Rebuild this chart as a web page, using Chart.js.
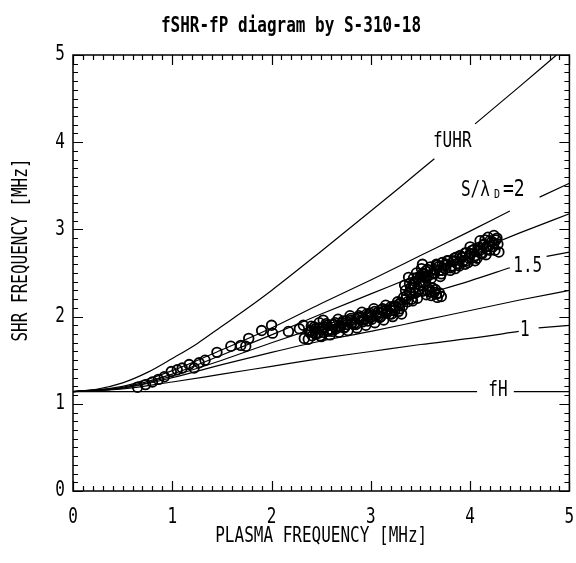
<!DOCTYPE html>
<html>
<head>
<meta charset="utf-8">
<script src="https://cdn.jsdelivr.net/npm/chart.js@4"></script>
<style>
  html, body { margin: 0; padding: 0; background: #fff; }
</style>
</head>
<body>
<canvas id="chart" width="576" height="563"></canvas>
<script>
// measured SHR points (plasma freq, SHR freq) in MHz
const shrFp = [
  0.65, 0.73, 0.80, 0.86, 0.92, 0.99, 1.05, 1.10, 1.17, 1.22, 1.27, 1.33, 1.45, 1.59, 1.69, 1.74, 1.77,
  1.90, 2.00, 2.01, 2.17, 2.28, 2.32, 2.33, 2.40, 2.45, 2.52, 2.48,
  2.38, 2.41, 2.44, 2.47, 2.50, 2.53, 2.56, 2.59, 2.62, 2.65, 2.68, 2.71, 2.74, 2.77, 2.80, 2.83, 2.86,
  2.89, 2.92, 2.95, 2.98, 3.01, 3.04, 3.07, 3.10, 3.13, 3.16, 3.19, 3.22, 3.25, 3.28, 3.30, 3.31,
  2.60, 2.70, 2.80, 2.90, 3.00, 3.10, 3.20,
  2.37, 2.39, 2.43, 2.45, 2.49, 2.51, 2.55, 2.57, 2.61, 2.63, 2.67, 2.69, 2.73, 2.75, 2.79, 2.81,
  2.85, 2.87, 2.91, 2.93, 2.97, 2.99, 3.03, 3.05, 3.09, 3.11, 3.15, 3.17, 3.21, 3.23, 3.27, 3.29,
  2.40, 2.44, 2.48, 2.52, 2.56, 2.60, 2.64, 2.68, 2.72, 2.76, 2.80, 2.84, 2.88, 2.92, 2.96, 3.00,
  3.04, 3.08, 3.12, 3.16, 3.20, 3.24, 3.28,
  3.33, 3.35, 3.37, 3.39, 3.41, 3.43, 3.44, 3.46, 3.47, 3.49, 3.51, 3.52, 3.54, 3.56,
  3.32, 3.36, 3.40, 3.42, 3.45, 3.48, 3.50, 3.53, 3.57, 3.62, 3.66, 3.34, 3.38,
  3.35, 3.39, 3.43, 3.47, 3.41, 3.45, 3.50, 3.55, 3.60, 3.65,
  3.59, 3.61, 3.64, 3.67, 3.69, 3.71,
  3.55, 3.58, 3.60, 3.63, 3.66, 3.69, 3.72, 3.75, 3.78, 3.81, 3.84, 3.87, 3.90, 3.93, 3.96, 3.99,
  4.02, 4.05, 4.08, 4.11, 4.14, 4.17, 4.20, 4.23, 4.26, 4.28, 4.29, 4.18, 4.10, 4.00, 3.70, 3.85,
  3.95, 4.05, 3.52,
  3.51, 3.54, 3.57, 3.61, 3.64, 3.67, 3.71, 3.74, 3.77, 3.80, 3.83, 3.86, 3.89, 3.92, 3.95, 3.98,
  4.01, 4.04, 4.07, 4.10, 4.13, 4.16, 4.19, 4.22, 4.25, 4.27, 4.24, 4.15,
  3.52, 3.56, 3.60, 3.64, 3.68, 3.72, 3.76, 3.80, 3.84, 3.88, 3.92, 3.96, 4.00, 4.04, 4.08, 4.12,
  4.16, 4.20, 4.24
];
const shrF = [
  1.19, 1.22, 1.25, 1.28, 1.31, 1.37, 1.39, 1.41, 1.45, 1.41, 1.47, 1.50, 1.59, 1.66, 1.67, 1.66, 1.75,
  1.84, 1.90, 1.81, 1.83, 1.86, 1.90, 1.75, 1.89, 1.80, 1.96, 1.93,
  1.82, 1.78, 1.86, 1.81, 1.77, 1.88, 1.83, 1.79, 1.91, 1.86, 1.82, 1.93, 1.88, 1.84, 1.96, 1.91, 1.87,
  1.99, 1.94, 1.90, 2.02, 1.97, 1.93, 2.05, 2.00, 1.96, 2.08, 2.03, 2.00, 2.12, 2.06, 2.16, 2.03,
  1.85, 1.89, 1.92, 1.96, 2.00, 2.04, 2.07,
  1.74, 1.83, 1.88, 1.81, 1.78, 1.87, 1.92, 1.85, 1.83, 1.91, 1.97, 1.89, 1.87, 1.95, 2.01, 1.93,
  1.91, 1.99, 2.05, 1.97, 1.95, 2.04, 2.09, 2.01, 1.99, 2.08, 2.13, 2.06, 2.03, 2.12, 2.17, 2.09,
  1.84, 1.80, 1.87, 1.82, 1.90, 1.85, 1.93, 1.88, 1.95, 1.91, 1.98, 1.93, 2.01, 1.96, 2.03, 1.99,
  2.06, 2.01, 2.09, 2.04, 2.11, 2.07, 2.14,
  2.22, 2.30, 2.17, 2.38, 2.26, 2.44, 2.33, 2.50, 2.21, 2.40, 2.55, 2.29, 2.46, 2.25,
  2.12, 2.24, 2.33, 2.18, 2.40, 2.30, 2.46, 2.36, 2.30, 2.33, 2.26, 2.36, 2.45,
  2.20, 2.28, 2.38, 2.45, 2.20, 2.27, 2.35, 2.40, 2.28, 2.31,
  2.31, 2.24, 2.28, 2.22, 2.27, 2.23,
  2.52, 2.47, 2.57, 2.50, 2.60, 2.53, 2.62, 2.55, 2.64, 2.58, 2.67, 2.61, 2.70, 2.64, 2.73, 2.67,
  2.76, 2.70, 2.79, 2.73, 2.83, 2.77, 2.87, 2.80, 2.88, 2.83, 2.74, 2.91, 2.87, 2.80, 2.46, 2.55,
  2.60, 2.64, 2.60,
  2.39, 2.49, 2.54, 2.44, 2.54, 2.59, 2.49, 2.59, 2.64, 2.53, 2.63, 2.68, 2.58, 2.68, 2.73, 2.62,
  2.72, 2.77, 2.67, 2.76, 2.82, 2.71, 2.81, 2.86, 2.76, 2.90, 2.93, 2.88,
  2.49, 2.45, 2.53, 2.49, 2.57, 2.53, 2.60, 2.56, 2.64, 2.60, 2.68, 2.64, 2.72, 2.68, 2.76, 2.72,
  2.80, 2.76, 2.84
];

// reference curves (null = break for label)
const fhFp = [0, 4.07, 4.25, 4.44, 5];
const fhF = [1.14, 1.14, null, 1.14, 1.14];

const uhrFp = [0, 0.25, 0.5, 0.75, 1, 1.25, 1.5, 1.75, 2, 2.5, 3, 3.3, 3.64, 3.85, 4.05, 4.5, 4.87];
const uhrF = [1.14, 1.17, 1.24, 1.36, 1.52, 1.69, 1.89, 2.09, 2.30, 2.75, 3.21, 3.49, 3.81, null, 4.21, 4.64, 5.0];

const s20Fp = [0, 0.5, 1, 1.5, 2, 2.5, 3, 3.5, 4, 4.40, 4.55, 4.70, 5];
const s20F = [1.14, 1.20, 1.38, 1.62, 1.87, 2.15, 2.42, 2.70, 2.98, 3.21, null, 3.37, 3.53];

const s175Fp = [0, 0.5, 1, 1.5, 2, 2.5, 3, 3.5, 4, 4.5, 5];
const s175F = [1.14, 1.19, 1.34, 1.56, 1.79, 2.03, 2.26, 2.49, 2.73, 2.96, 3.18];

const s15Fp = [0, 0.5, 1, 1.5, 2, 2.5, 3, 3.5, 4, 4.40, 4.58, 4.77, 5];
const s15F = [1.14, 1.18, 1.32, 1.50, 1.70, 1.89, 2.07, 2.24, 2.41, 2.56, null, 2.69, 2.74];

const s125Fp = [0, 0.5, 1, 1.5, 2, 2.5, 3, 3.5, 4, 4.5, 5];
const s125F = [1.14, 1.18, 1.30, 1.45, 1.59, 1.72, 1.83, 1.95, 2.07, 2.19, 2.30];

const s10Fp = [0, 0.5, 1, 1.5, 2, 2.5, 3, 3.5, 4, 4.49, 4.60, 4.69, 5];
const s10F = [1.14, 1.17, 1.25, 1.34, 1.43, 1.52, 1.60, 1.68, 1.75, 1.83, null, 1.87, 1.90];

// label texts and where they sit (data units)
const curveLabels = [
  { text: 'fUHR', fp: 3.82, f: 4.01 },
  { text: 'fH', fp: 4.28, f: 1.15 },
  { text: '1.5', fp: 4.58, f: 2.57 },
  { text: '1', fp: 4.55, f: 1.84 }
];
const debyeLabel = { fp: 4.27, f: 3.45 };

const xTicks = [0, 1, 2, 3, 4, 5];
const yTicks = [0, 1, 2, 3, 4, 5];

const FONT = '"DejaVu Sans Mono", "Liberation Mono", monospace';

function pts(xs, ys) {
  return xs.map((x, i) => ({ x: x, y: ys[i] }));
}

function curve(xs, ys) {
  return {
    type: 'line',
    data: pts(xs, ys),
    borderColor: '#000',
    borderWidth: 1.2,
    pointRadius: 0,
    fill: false,
    spanGaps: false,
    cubicInterpolationMode: 'monotone',
    order: 2
  };
}

// tall, narrow text like the old plotter font
function tallText(ctx, s, x, y, size, align, rot, weight) {
  ctx.save();
  ctx.translate(x, y);
  if (rot) ctx.rotate(-Math.PI / 2);
  ctx.scale(1, 1.3);
  ctx.font = (weight || 'normal') + ' ' + size + 'px ' + FONT;
  ctx.textAlign = align || 'center';
  ctx.textBaseline = 'middle';
  ctx.fillStyle = '#000';
  ctx.fillText(s, 0, 0);
  ctx.restore();
}

const decor = {
  id: 'decor',
  afterDraw(chart) {
    const ctx = chart.ctx;
    const a = chart.chartArea;
    const xs = chart.scales.x, ys = chart.scales.y;

    ctx.save();
    ctx.strokeStyle = '#000';
    ctx.lineWidth = 1.5;
    ctx.strokeRect(a.left, a.top, a.right - a.left, a.bottom - a.top);

    // inward ticks on all four sides
    ctx.lineWidth = 1.2;
    ctx.beginPath();
    for (let i = 0; i <= 50; i++) {
      const v = i / 10;
      const len = (i % 10 === 0) ? 10 : 5;
      const px = Math.round(xs.getPixelForValue(v)) + 0.5;
      const py = Math.round(ys.getPixelForValue(v)) + 0.5;
      ctx.moveTo(px, a.bottom); ctx.lineTo(px, a.bottom - len);
      ctx.moveTo(px, a.top); ctx.lineTo(px, a.top + len);
      ctx.moveTo(a.left, py); ctx.lineTo(a.left + len, py);
      ctx.moveTo(a.right, py); ctx.lineTo(a.right - len, py);
    }
    ctx.stroke();
    ctx.restore();

    xTicks.forEach(v => tallText(ctx, String(v), xs.getPixelForValue(v), a.bottom + 27, 16));
    yTicks.forEach(v => tallText(ctx, String(v), a.left - 8, ys.getPixelForValue(v), 16, 'right'));

    tallText(ctx, 'fSHR-fP diagram by S-310-18', 291, 27, 16, 'center', false, 'bold');
    tallText(ctx, 'PLASMA FREQUENCY [MHz]', (a.left + a.right) / 2, 537, 16);
    tallText(ctx, 'SHR FREQUENCY [MHz]', 22, 250, 16, 'center', true);

    curveLabels.forEach(l => tallText(ctx, l.text, xs.getPixelForValue(l.fp), ys.getPixelForValue(l.f), 16));

    // S/λD = 2 with subscript D
    const lx = xs.getPixelForValue(debyeLabel.fp), ly = ys.getPixelForValue(debyeLabel.f);
    tallText(ctx, 'S/λ', lx - 36, ly, 16, 'left');
    tallText(ctx, 'D', lx - 3, ly + 4, 10, 'left');
    tallText(ctx, '=2', lx + 6, ly, 18, 'left');
  }
};

new Chart(document.getElementById('chart'), {
  type: 'scatter',
  data: {
    datasets: [
      {
        label: 'SHR',
        data: pts(shrFp, shrF),
        pointStyle: 'circle',
        pointRadius: 4.8,
        pointBorderWidth: 1.8,
        borderColor: '#000',
        backgroundColor: 'rgba(0,0,0,0)',
        order: 1
      },
      curve(fhFp, fhF),
      curve(uhrFp, uhrF),
      curve(s20Fp, s20F),
      curve(s175Fp, s175F),
      curve(s15Fp, s15F),
      curve(s125Fp, s125F),
      curve(s10Fp, s10F)
    ]
  },
  options: {
    responsive: false,
    animation: false,
    layout: { padding: { left: 73, right: 4, top: 55, bottom: 72 } },
    plugins: { legend: { display: false }, tooltip: { enabled: false } },
    scales: {
      x: { type: 'linear', min: 0, max: 5, display: false },
      y: { type: 'linear', min: 0, max: 5, display: false }
    }
  },
  plugins: [decor]
});
</script>
</body>
</html>
